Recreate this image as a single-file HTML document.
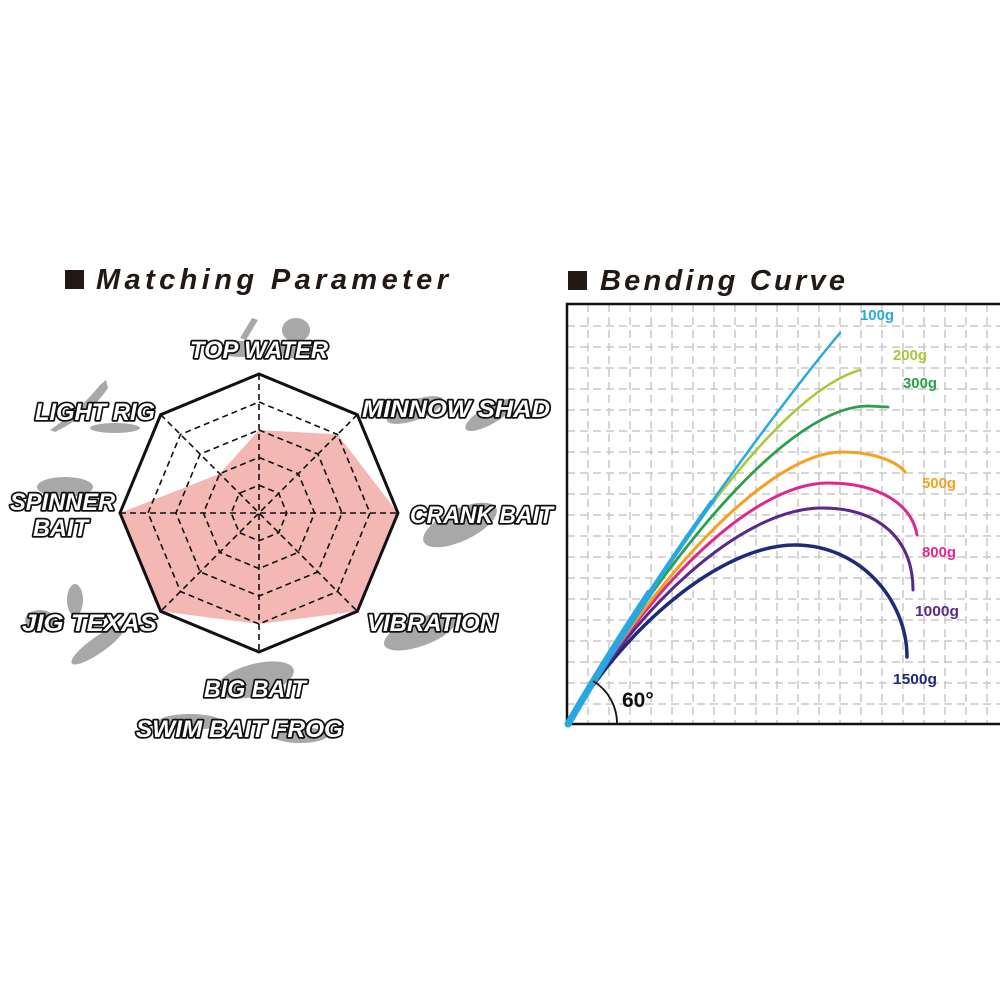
<!DOCTYPE html>
<html><head><meta charset="utf-8"><style>
html,body{margin:0;padding:0;background:#fff;}
svg{display:block;}
</style></head><body>
<svg width="1000" height="1000" viewBox="0 0 1000 1000" xmlns="http://www.w3.org/2000/svg">
<defs>
<clipPath id="box"><rect x="567" y="304" width="440" height="420"/></clipPath>
<clipPath id="low"><rect x="560" y="590" width="120" height="140"/></clipPath>
<clipPath id="mid"><rect x="560" y="500" width="180" height="230"/></clipPath>
</defs>
<rect width="1000" height="1000" fill="#fff"/>

<!-- Titles -->
<rect x="65" y="270" width="19" height="19" fill="#231815"/>
<text x="96" y="289" font-family="Liberation Sans, sans-serif" font-size="29" font-weight="bold" font-style="italic" fill="#231815" textLength="352" lengthAdjust="spacing">Matching Parameter</text>
<rect x="568" y="271" width="19" height="19" fill="#231815"/>
<text x="600" y="290" font-family="Liberation Sans, sans-serif" font-size="29" font-weight="bold" font-style="italic" fill="#231815" textLength="245" lengthAdjust="spacing">Bending Curve</text>

<!-- lure silhouettes (approx) -->
<g fill="#a8a8a8">
<ellipse cx="240" cy="349" rx="22" ry="8"/>
<ellipse cx="296" cy="330" rx="14" ry="12"/>
<ellipse cx="295" cy="350" rx="20" ry="8"/>
<path d="M240 338 L252 318 L258 320 L246 340Z"/>
<path d="M50 430 Q80 410 100 385 L106 380 L108 388 Q90 415 55 432Z"/>
<ellipse cx="115" cy="428" rx="25" ry="5"/>
<ellipse cx="415" cy="410" rx="30" ry="10" transform="rotate(-20 415 410)"/>
<ellipse cx="490" cy="415" rx="28" ry="9" transform="rotate(-30 490 415)"/>
<ellipse cx="65" cy="487" rx="28" ry="10"/>
<ellipse cx="460" cy="525" rx="40" ry="16" transform="rotate(-25 460 525)"/>
<ellipse cx="75" cy="600" rx="8" ry="16"/>
<ellipse cx="40" cy="620" rx="15" ry="10"/>
<ellipse cx="98" cy="645" rx="32" ry="8" transform="rotate(-35 98 645)"/>
<ellipse cx="420" cy="632" rx="38" ry="14" transform="rotate(-20 420 632)"/>
<ellipse cx="255" cy="680" rx="40" ry="16" transform="rotate(-15 255 680)"/>
<ellipse cx="190" cy="722" rx="32" ry="8"/>
<ellipse cx="300" cy="735" rx="28" ry="8"/>
</g>

<!-- Radar -->
<g transform="translate(259,513)">
<polygon points="0,-83 78.6,-78.6 139,0 98.3,98.3 0,111 -98.3,98.3 -139,0 -39.3,-39.3" fill="#f4b8b4"/>
<g fill="none" stroke="#111" stroke-width="1.6" stroke-dasharray="6,4">
<polygon points="0,-111 78.5,-78.5 111,0 78.5,78.5 0,111 -78.5,78.5 -111,0 -78.5,-78.5"/>
<polygon points="0,-83 58.9,-58.9 83,0 58.9,58.9 0,83 -58.9,58.9 -83,0 -58.9,-58.9"/>
<polygon points="0,-55.6 39.3,-39.3 55.6,0 39.3,39.3 0,55.6 -39.3,39.3 -55.6,0 -39.3,-39.3"/>
<polygon points="0,-27.8 19.7,-19.7 27.8,0 19.7,19.7 0,27.8 -19.7,19.7 -27.8,0 -19.7,-19.7"/>
<line x1="0" y1="-139" x2="0" y2="139"/>
<line x1="-139" y1="0" x2="139" y2="0"/>
<line x1="-98.3" y1="-98.3" x2="98.3" y2="98.3"/>
<line x1="98.3" y1="-98.3" x2="-98.3" y2="98.3"/>
</g>
<polygon points="0,-139 98.3,-98.3 139,0 98.3,98.3 0,139 -98.3,98.3 -139,0 -98.3,-98.3" fill="none" stroke="#111" stroke-width="3"/>
</g>

<!-- Radar labels -->
<g font-family="Liberation Sans, sans-serif" font-size="24" font-weight="bold" font-style="italic" fill="#fff" stroke="#111" stroke-width="3.5" stroke-linejoin="round" paint-order="stroke">
<text x="190" y="358" textLength="138" lengthAdjust="spacingAndGlyphs">TOP WATER</text>
<text x="35" y="420" textLength="120" lengthAdjust="spacingAndGlyphs">LIGHT RIG</text>
<text x="362" y="417" textLength="188" lengthAdjust="spacingAndGlyphs">MINNOW SHAD</text>
<text x="10" y="510" textLength="105" lengthAdjust="spacingAndGlyphs">SPINNER</text>
<text x="33" y="536" textLength="55" lengthAdjust="spacingAndGlyphs">BAIT</text>
<text x="410" y="523" textLength="143" lengthAdjust="spacingAndGlyphs">CRANK BAIT</text>
<text x="22" y="631" textLength="135" lengthAdjust="spacingAndGlyphs">JIG  TEXAS</text>
<text x="367" y="631" textLength="130" lengthAdjust="spacingAndGlyphs">VIBRATION</text>
<text x="204" y="697" textLength="102" lengthAdjust="spacingAndGlyphs">BIG BAIT</text>
<text x="136" y="737" textLength="207" lengthAdjust="spacingAndGlyphs">SWIM BAIT  FROG</text>
</g>

<!-- Bending curve grid -->
<g clip-path="url(#box)" stroke="#c8c8c8" stroke-width="1.5" stroke-dasharray="8,5">
<path d="M588 304V724M609 304V724M630 304V724M651 304V724M672 304V724M693 304V724M714 304V724M735 304V724M756 304V724M777 304V724M798 304V724M819 304V724M840 304V724M861 304V724M882 304V724M903 304V724M924 304V724M945 304V724M966 304V724M987 304V724"/>
<path d="M567 704H1000M567 683H1000M567 662H1000M567 641H1000M567 620H1000M567 599H1000M567 578H1000M567 557H1000M567 536H1000M567 515H1000M567 494H1000M567 473H1000M567 452H1000M567 431H1000M567 410H1000M567 389H1000M567 368H1000M567 347H1000M567 326H1000"/>
</g>
<rect x="567" y="304" width="440" height="420" fill="none" stroke="#111" stroke-width="2.5"/>

<!-- curves -->
<g fill="none" stroke-linecap="round">
<path d="M568 724 C623 629 720 545 795 545 C860 545 907 600 907 657" stroke="#1e2a7a" stroke-width="3.5"/>
<path d="M568 724 C633 611 740 508 822 508 C880 508 913 540 913 590" stroke="#5a2a8a" stroke-width="3"/>
<path d="M568 724 C643 594 750 483 828 483 C880 483 912 505 917 535" stroke="#e0288a" stroke-width="3"/>
<path d="M568 724 C653 577 770 452 842 452 C880 452 900 465 905 472" stroke="#f5a020" stroke-width="3"/>
<path d="M568 724 C668 551 790 406 868 406 L888 407" stroke="#2aa04a" stroke-width="2.8"/>
<path d="M568 724 C683 525 790 390 860 370" stroke="#a8c83c" stroke-width="2.6"/>
<path d="M568 724 C668 551 800 380 840 333" stroke="#29a8e0" stroke-width="2.5"/>
<path d="M568 724 C668 551 800 380 840 333" stroke="#29a8e0" stroke-width="4.5" clip-path="url(#mid)"/>
<path d="M568 724 C668 551 800 380 840 333" stroke="#29a8e0" stroke-width="7" clip-path="url(#low)"/>
</g>
<path d="M617 724 A49 49 0 0 0 593 681" fill="none" stroke="#111" stroke-width="1.8"/>
<text x="622" y="707" font-family="Liberation Sans, sans-serif" font-size="21" font-weight="bold" fill="#111">60°</text>

<g font-family="Liberation Sans, sans-serif" font-size="15" font-weight="bold">
<text x="860" y="320" fill="#29a8e0" textLength="34" lengthAdjust="spacingAndGlyphs">100g</text>
<text x="893" y="360" fill="#a8c83c" textLength="34" lengthAdjust="spacingAndGlyphs">200g</text>
<text x="903" y="388" fill="#2aa04a" textLength="34" lengthAdjust="spacingAndGlyphs">300g</text>
<text x="922" y="488" fill="#f5a020" textLength="34" lengthAdjust="spacingAndGlyphs">500g</text>
<text x="922" y="557" fill="#e0288a" textLength="34" lengthAdjust="spacingAndGlyphs">800g</text>
<text x="915" y="616" fill="#5a2a8a" textLength="44" lengthAdjust="spacingAndGlyphs">1000g</text>
<text x="893" y="684" fill="#1e2a7a" textLength="44" lengthAdjust="spacingAndGlyphs">1500g</text>
</g>
</svg>
</body></html>
